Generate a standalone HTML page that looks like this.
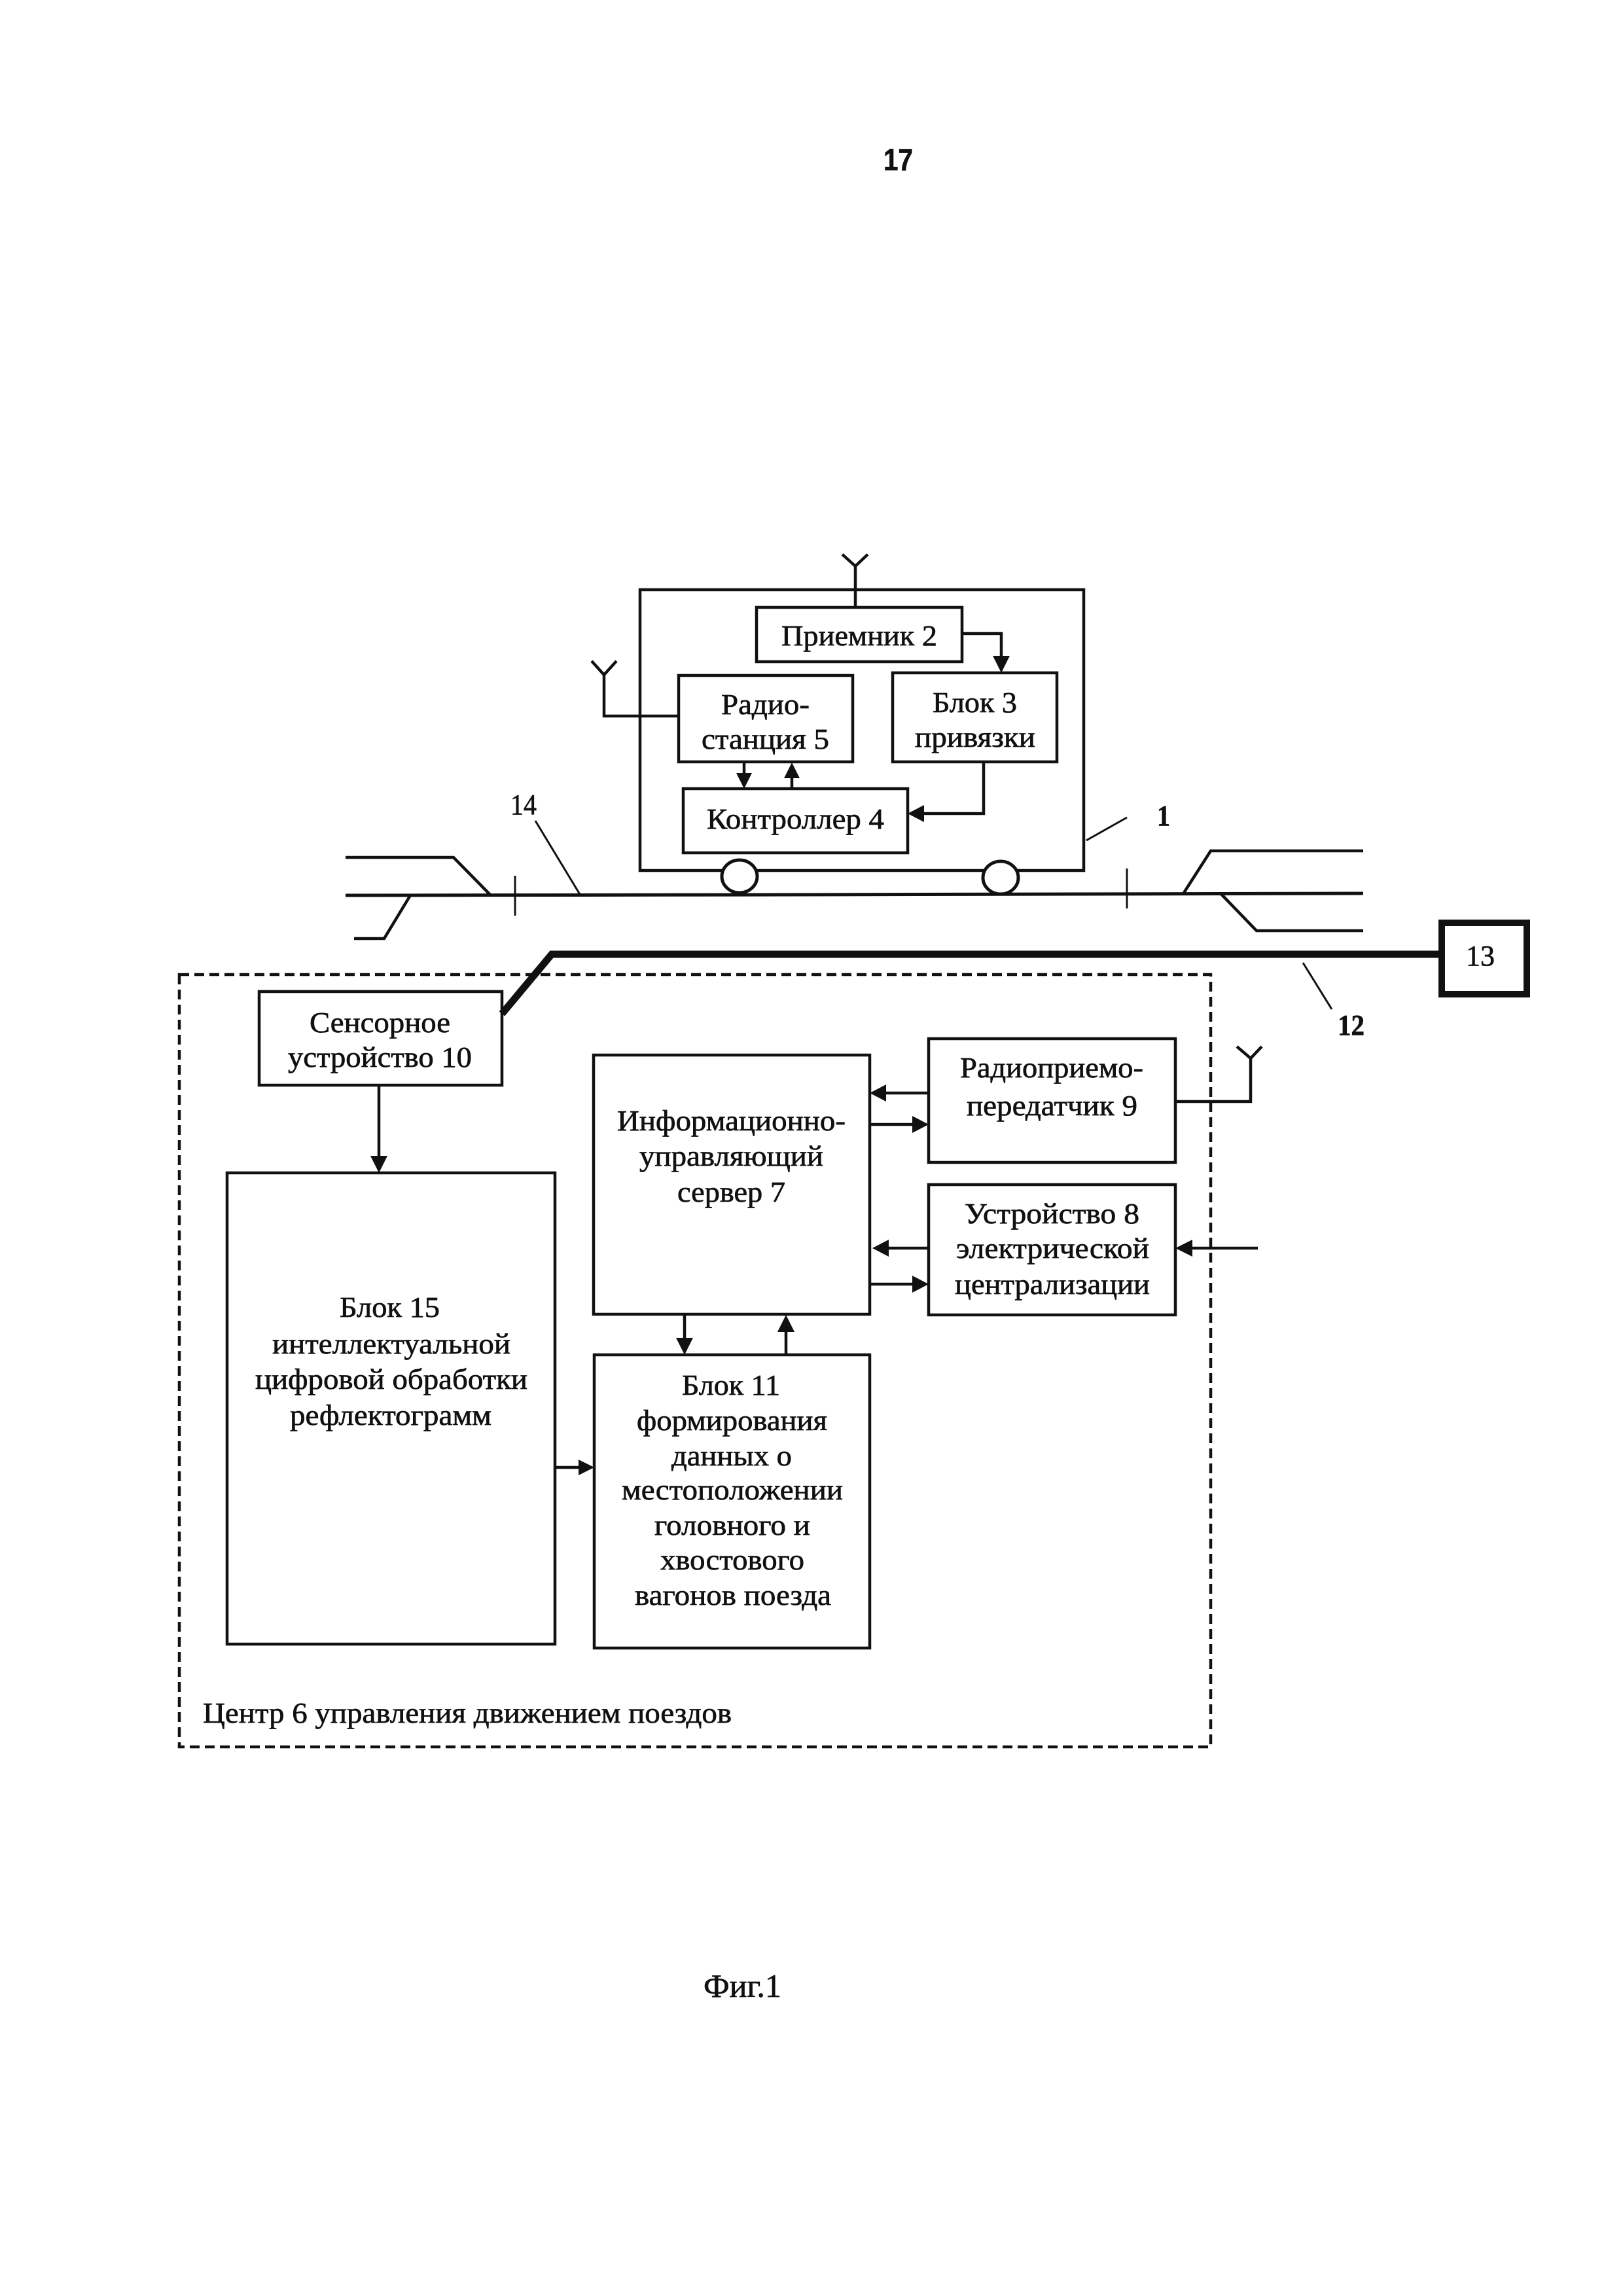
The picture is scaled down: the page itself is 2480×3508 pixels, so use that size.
<!DOCTYPE html>
<html lang="ru">
<head>
<meta charset="utf-8">
<title>Фиг.1</title>
<style>
html,body{margin:0;padding:0;background:#fff;}
svg{display:block;}
text{font-family:"Liberation Serif","DejaVu Serif",serif;font-size:44px;fill:#111;stroke:#111;stroke-width:.7px;}
</style>
</head>
<body>
<svg width="2480" height="3508" viewBox="0 0 2480 3508" xmlns="http://www.w3.org/2000/svg">
<rect width="2480" height="3508" fill="#fff"/>
<text x="1350" y="260" textLength="45" lengthAdjust="spacingAndGlyphs" style="font-family:'Liberation Sans',sans-serif;font-weight:bold;font-size:46px">17</text>

<g fill="none" stroke="#111" stroke-width="4.5">
<!-- train -->
<rect x="978" y="901" width="678" height="429"/>
<rect x="1156" y="928" width="314" height="83"/>
<rect x="1364" y="1028" width="251" height="136"/>
<rect x="1037" y="1032" width="266" height="132"/>
<rect x="1044" y="1205" width="343" height="98"/>
<!-- antennas -->
<path d="M1307 865V928M1287 847L1307 865L1326 847"/>
<path d="M923 1031V1094H1037M904 1010L923 1031L942 1010"/>
<path d="M1796 1683H1911V1617M1890 1599L1911 1617L1928 1599"/>
<!-- connectors train -->
<path d="M1470 968H1530V1004"/>
<path d="M1137 1164V1183"/>
<path d="M1210 1186V1205"/>
<path d="M1503 1164V1243H1408"/>
<!-- rail -->
<path d="M528 1368L1200 1367L2083 1365" stroke-width="5"/>
<path d="M528 1310H693L749 1367"/>
<path d="M541 1434H587L627 1368"/>
<path d="M787 1338V1399" stroke-width="3"/>
<path d="M1722 1327V1388" stroke-width="3"/>
<path d="M1809 1364L1850 1300H2083"/>
<path d="M1864 1364L1920 1422H2083"/>
<!-- leaders -->
<path d="M818 1254L887 1368" stroke-width="3"/>
<path d="M1722 1249L1660 1284" stroke-width="3"/>
<path d="M1991 1471L2035 1542" stroke-width="3"/>
<!-- dashed centre -->
<rect x="274" y="1489" width="1576" height="1180" stroke-dasharray="15 8" stroke-width="4.5"/>
<!-- control blocks -->
<rect x="396" y="1515" width="371" height="143"/>
<rect x="347" y="1792" width="501" height="720"/>
<rect x="907" y="1612" width="422" height="396"/>
<rect x="908" y="2070" width="421" height="448"/>
<rect x="1419" y="1587" width="377" height="189"/>
<rect x="1419" y="1810" width="377" height="199"/>
<!-- box 13 -->
<rect x="2203" y="1410" width="130" height="109" stroke-width="10"/>
<!-- cable -->
<path d="M767 1549L843 1458H2200" stroke-width="11"/>
<!-- connectors -->
<path d="M579 1658V1770"/>
<path d="M848 2242H888"/>
<path d="M1046 2008V2048"/>
<path d="M1201 2070V2032"/>
<path d="M1419 1670H1350"/>
<path d="M1329 1718H1398"/>
<path d="M1419 1907H1355"/>
<path d="M1329 1962H1398"/>
<path d="M1922 1907H1818"/>
</g>

<!-- wheels -->
<g fill="#fff" stroke="#111" stroke-width="5">
<ellipse cx="1130" cy="1339" rx="27" ry="25"/>
<ellipse cx="1529" cy="1341" rx="27" ry="25"/>
</g>

<!-- arrowheads -->
<g fill="#111">
<polygon points="1530,1028 1517,1002 1543,1002"/>
<polygon points="1137,1205 1125,1181 1149,1181"/>
<polygon points="1210,1165 1198,1189 1222,1189"/>
<polygon points="1387,1243 1412,1230 1412,1256"/>
<polygon points="579,1792 566,1766 592,1766"/>
<polygon points="908,2242 884,2230 884,2254"/>
<polygon points="1046,2070 1033,2044 1059,2044"/>
<polygon points="1201,2009 1188,2035 1214,2035"/>
<polygon points="1329,1670 1354,1657 1354,1683"/>
<polygon points="1419,1718 1394,1705 1394,1731"/>
<polygon points="1333,1907 1358,1894 1358,1920"/>
<polygon points="1419,1962 1394,1949 1394,1975"/>
<polygon points="1796,1907 1822,1894 1822,1920"/>
</g>

<!-- labels -->
<text x="1194" y="986" textLength="238" lengthAdjust="spacingAndGlyphs">Приемник 2</text>
<text x="1102" y="1091" textLength="135" lengthAdjust="spacingAndGlyphs">Радио-</text>
<text x="1072" y="1144" textLength="195" lengthAdjust="spacingAndGlyphs">станция 5</text>
<text x="1425" y="1088" textLength="129" lengthAdjust="spacingAndGlyphs">Блок 3</text>
<text x="1398" y="1141" textLength="184" lengthAdjust="spacingAndGlyphs">привязки</text>
<text x="1080" y="1266" textLength="271" lengthAdjust="spacingAndGlyphs">Контроллер 4</text>
<text x="780" y="1244" textLength="40" lengthAdjust="spacingAndGlyphs">14</text>
<text x="1768" y="1261" textLength="20" lengthAdjust="spacingAndGlyphs" style="font-weight:bold">1</text>
<text x="2044" y="1581" textLength="41" lengthAdjust="spacingAndGlyphs" style="font-weight:bold">12</text>
<text x="2240" y="1475" textLength="44" lengthAdjust="spacingAndGlyphs">13</text>

<text x="473" y="1577" textLength="215" lengthAdjust="spacingAndGlyphs">Сенсорное</text>
<text x="440" y="1630" textLength="281" lengthAdjust="spacingAndGlyphs">устройство 10</text>

<text x="943" y="1727" textLength="349" lengthAdjust="spacingAndGlyphs">Информационно-</text>
<text x="977" y="1781" textLength="281" lengthAdjust="spacingAndGlyphs">управляющий</text>
<text x="1035" y="1836" textLength="165" lengthAdjust="spacingAndGlyphs">сервер 7</text>

<text x="519" y="2012" textLength="153" lengthAdjust="spacingAndGlyphs">Блок 15</text>
<text x="416" y="2068" textLength="364" lengthAdjust="spacingAndGlyphs">интеллектуальной</text>
<text x="390" y="2122" textLength="416" lengthAdjust="spacingAndGlyphs">цифровой обработки</text>
<text x="443" y="2177" textLength="308" lengthAdjust="spacingAndGlyphs">рефлектограмм</text>

<text x="1042" y="2131" textLength="150" lengthAdjust="spacingAndGlyphs">Блок 11</text>
<text x="973" y="2185" textLength="291" lengthAdjust="spacingAndGlyphs">формирования</text>
<text x="1026" y="2239" textLength="184" lengthAdjust="spacingAndGlyphs">данных о</text>
<text x="950" y="2291" textLength="338" lengthAdjust="spacingAndGlyphs">местоположении</text>
<text x="1000" y="2345" textLength="238" lengthAdjust="spacingAndGlyphs">головного и</text>
<text x="1009" y="2398" textLength="220" lengthAdjust="spacingAndGlyphs">хвостового</text>
<text x="970" y="2452" textLength="300" lengthAdjust="spacingAndGlyphs">вагонов поезда</text>

<text x="1467" y="1646" textLength="280" lengthAdjust="spacingAndGlyphs">Радиоприемо-</text>
<text x="1477" y="1704" textLength="261" lengthAdjust="spacingAndGlyphs">передатчик 9</text>
<text x="1474" y="1869" textLength="267" lengthAdjust="spacingAndGlyphs">Устройство 8</text>
<text x="1461" y="1922" textLength="295" lengthAdjust="spacingAndGlyphs">электрической</text>
<text x="1459" y="1977" textLength="298" lengthAdjust="spacingAndGlyphs">централизации</text>

<text x="310" y="2632" textLength="808" lengthAdjust="spacingAndGlyphs">Центр 6 управления движением поездов</text>
<text x="1075" y="3051" textLength="119" lengthAdjust="spacingAndGlyphs" style="font-size:50px">Фиг.1</text>
</svg>
</body>
</html>
